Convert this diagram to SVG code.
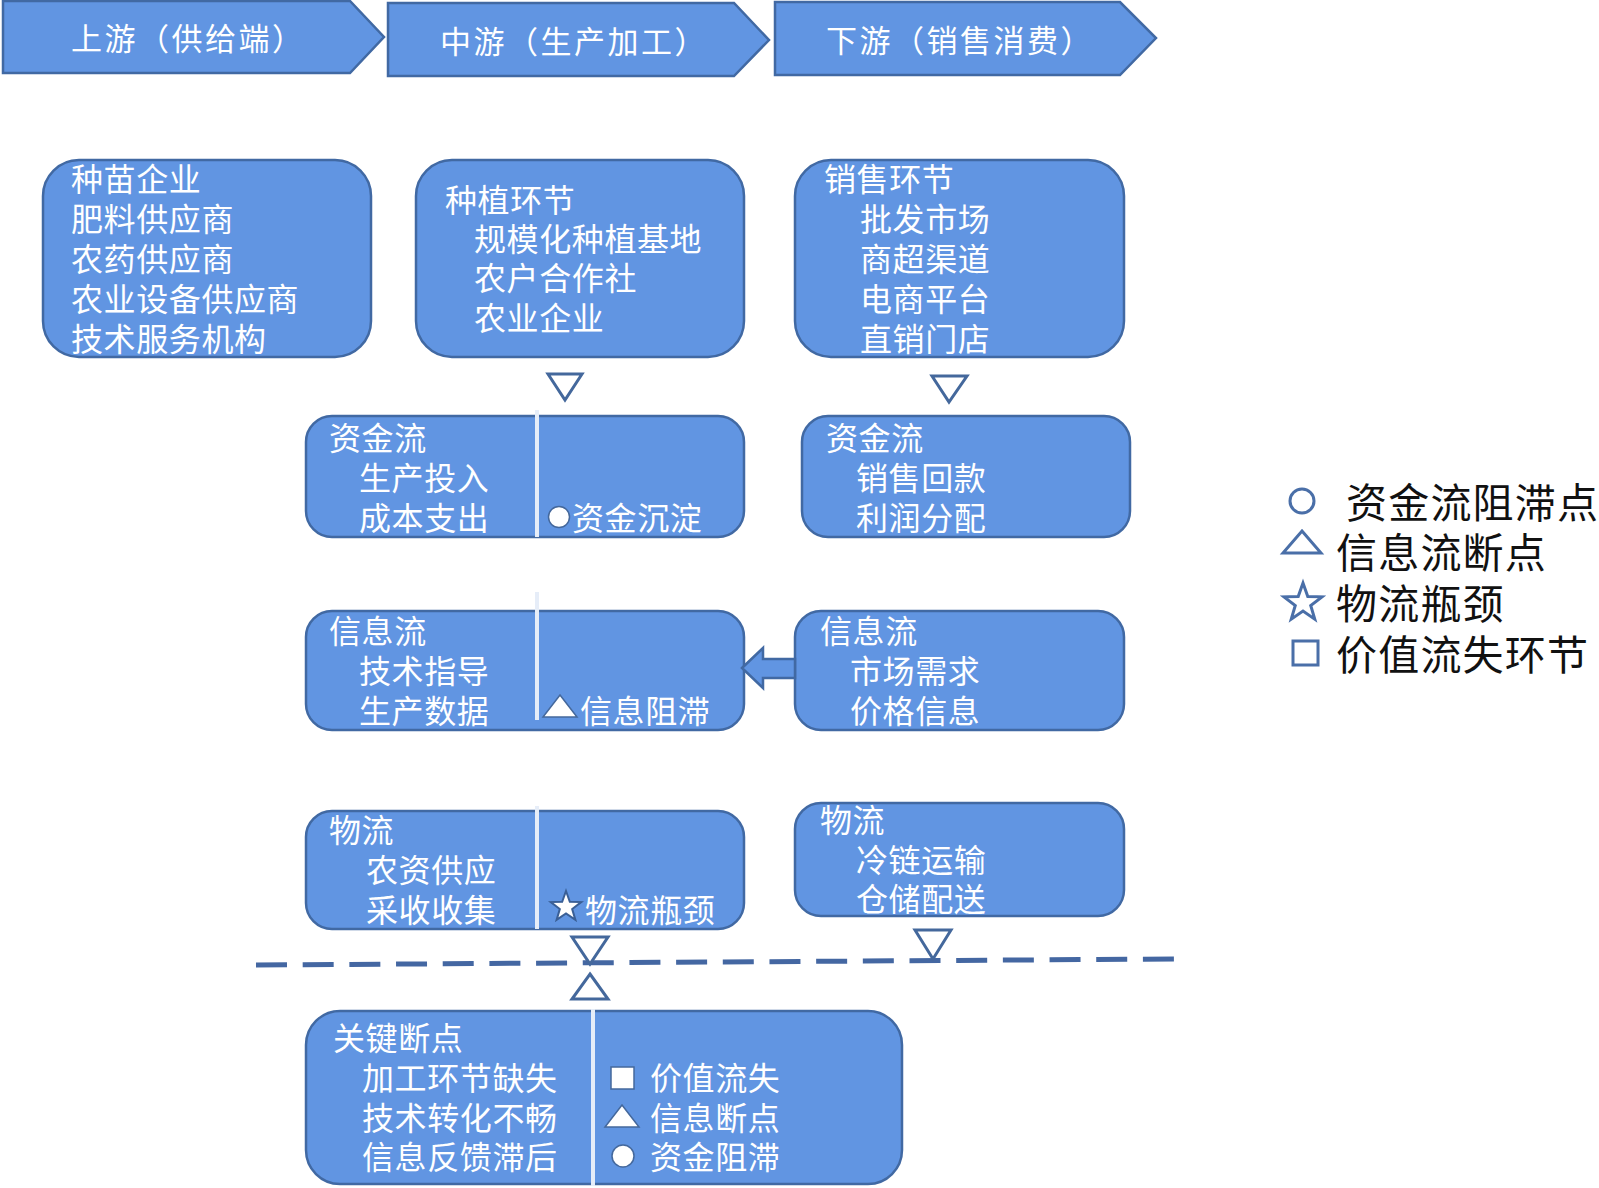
<svg xmlns="http://www.w3.org/2000/svg" width="1599" height="1188" viewBox="0 0 1599 1188">
<style>
.box{fill:#6195e2;stroke:#4169a3;stroke-width:2.5}
.t{font-family:"Noto Sans CJK SC","Liberation Sans",sans-serif;font-size:32px;letter-spacing:0.6px;fill:#ffffff;dominant-baseline:central}
.h{font-family:"Noto Sans CJK SC","Liberation Sans",sans-serif;font-size:31px;letter-spacing:2.5px;fill:#ffffff;dominant-baseline:central}
.lg{font-family:"Noto Sans CJK SC","Liberation Sans",sans-serif;font-size:41px;letter-spacing:1.2px;fill:#111111;dominant-baseline:central}
.div{stroke:#e6edf8;stroke-width:4}
.tri{fill:#ffffff;stroke:#44689c;stroke-width:3}
.wsym{fill:#ffffff;stroke:#44689c;stroke-width:1.5}
.lsym{fill:#ffffff;stroke:#4a6fa8;stroke-width:3}
</style>
<defs>
<polygon id="star" points="0,-16 3.82,-5.26 15.22,-4.94 6.18,2.01 9.40,12.94 0,6.5 -9.40,12.94 -6.18,2.01 -15.22,-4.94 -3.82,-5.26"/>
</defs>
<rect width="1599" height="1188" fill="#ffffff"/>

<g id="chevron-upstream">
<polygon class="box" points="3,1 350,1 384,37 350,73 3,73"/>
<text class="h" x="71" y="36">上游（供给端）</text>
</g>
<g id="chevron-midstream">
<polygon class="box" points="388,3 734,3 769,40 734,76 388,76"/>
<text class="h" x="440" y="39">中游（生产加工）</text>
</g>
<g id="chevron-downstream">
<polygon class="box" points="775,2 1120,2 1156,38 1120,75 775,75"/>
<text class="h" x="826" y="38">下游（销售消费）</text>
</g>

<g id="node-suppliers">
<rect class="box" x="43" y="160" width="328" height="197" rx="36"/>
<text class="t"><tspan x="71" y="177">种苗企业</tspan><tspan x="71" y="217">肥料供应商</tspan><tspan x="71" y="257">农药供应商</tspan><tspan x="71" y="297">农业设备供应商</tspan><tspan x="71" y="337">技术服务机构</tspan></text>
</g>

<g id="node-planting">
<rect class="box" x="416" y="160" width="328" height="197" rx="36"/>
<text class="t"><tspan x="445" y="198">种植环节</tspan><tspan x="474" y="237">规模化种植基地</tspan><tspan x="474" y="276">农户合作社</tspan><tspan x="474" y="316">农业企业</tspan></text>
</g>

<g id="node-sales">
<rect class="box" x="795" y="160" width="329" height="197" rx="36"/>
<text class="t"><tspan x="824" y="177">销售环节</tspan><tspan x="860" y="217">批发市场</tspan><tspan x="860" y="257">商超渠道</tspan><tspan x="860" y="297">电商平台</tspan><tspan x="860" y="337">直销门店</tspan></text>
</g>

<g id="node-capital-mid">
<rect class="box" x="306" y="416" width="438" height="121" rx="26"/>
<line class="div" x1="537" y1="410" x2="537" y2="537"/>
<text class="t"><tspan x="329" y="436">资金流</tspan><tspan x="359" y="476">生产投入</tspan><tspan x="359" y="516">成本支出</tspan></text>
<circle class="wsym" cx="559" cy="517" r="10.5"/>
<text class="t" x="572" y="516">资金沉淀</text>
</g>

<g id="node-capital-down">
<rect class="box" x="802" y="416" width="328" height="121" rx="26"/>
<text class="t"><tspan x="826" y="436">资金流</tspan><tspan x="856" y="476">销售回款</tspan><tspan x="856" y="516">利润分配</tspan></text>
</g>

<g id="node-info-mid">
<rect class="box" x="306" y="611" width="438" height="119" rx="26"/>
<line class="div" x1="537" y1="592" x2="537" y2="720"/>
<text class="t"><tspan x="329" y="629">信息流</tspan><tspan x="359" y="669">技术指导</tspan><tspan x="359" y="709">生产数据</tspan></text>
<polygon class="wsym" points="560,695 577,717 543,717"/>
<text class="t" x="580" y="709">信息阻滞</text>
</g>

<g id="node-info-down">
<rect class="box" x="795" y="611" width="329" height="119" rx="26"/>
<text class="t"><tspan x="820" y="629">信息流</tspan><tspan x="850" y="669">市场需求</tspan><tspan x="850" y="709">价格信息</tspan></text>
</g>

<g id="node-logistics-mid">
<rect class="box" x="306" y="811" width="438" height="118" rx="26"/>
<line class="div" x1="537" y1="806" x2="537" y2="929"/>
<text class="t"><tspan x="329" y="828">物流</tspan><tspan x="366" y="868">农资供应</tspan><tspan x="366" y="908">采收收集</tspan></text>
<use href="#star" transform="translate(566,907)" fill="#ffffff" stroke="#3a5f96" stroke-width="2"/>
<text class="t" x="585" y="908">物流瓶颈</text>
</g>

<g id="node-logistics-down">
<rect class="box" x="795" y="803" width="329" height="113" rx="26"/>
<text class="t"><tspan x="820" y="818">物流</tspan><tspan x="856" y="858">冷链运输</tspan><tspan x="856" y="897">仓储配送</tspan></text>
</g>

<g id="node-breakpoints">
<rect class="box" x="306" y="1011" width="596" height="173" rx="34"/>
<line class="div" x1="593" y1="1009" x2="593" y2="1186"/>
<text class="t"><tspan x="333" y="1036">关键断点</tspan><tspan x="362" y="1076">加工环节缺失</tspan><tspan x="362" y="1116">技术转化不畅</tspan><tspan x="362" y="1155">信息反馈滞后</tspan></text>
<rect class="wsym" x="611" y="1067" width="23" height="22"/>
<polygon class="wsym" points="622,1105 639,1127 605,1127"/>
<circle class="wsym" cx="623" cy="1156" r="11"/>
<text class="t"><tspan x="650" y="1076">价值流失</tspan><tspan x="650" y="1116">信息断点</tspan><tspan x="650" y="1155">资金阻滞</tspan></text>
</g>

<g id="connectors">
<polygon class="tri" points="548,374 582,374 565,400"/>
<polygon class="tri" points="932,376 967,376 949,402"/>
<polygon points="742,668 763,648 763,659 795,659 795,678 763,678 763,688" fill="#6195e2" stroke="#4169a3" stroke-width="2.5"/>
<line x1="256" y1="965" x2="1174" y2="959" stroke="#4467a2" stroke-width="5" stroke-dasharray="31,15.68"/>
<polygon class="tri" points="572,937 608,937 590,964"/>
<polygon class="tri" points="915,930 951,930 933,959"/>
<polygon class="tri" points="590,974 608,999 572,999"/>
</g>

<g id="legend">
<circle class="lsym" cx="1302" cy="501" r="12"/>
<polygon class="lsym" points="1302,531 1321,553 1283,553"/>
<use href="#star" transform="translate(1303,603) scale(1.25)" fill="#ffffff" stroke="#4a6fa8" stroke-width="2.4"/>
<rect class="lsym" x="1293" y="641" width="25" height="24"/>
<text class="lg"><tspan x="1346" y="500">资金流阻滞点</tspan><tspan x="1336" y="550">信息流断点</tspan><tspan x="1336" y="601">物流瓶颈</tspan><tspan x="1336" y="652">价值流失环节</tspan></text>
</g>
</svg>
